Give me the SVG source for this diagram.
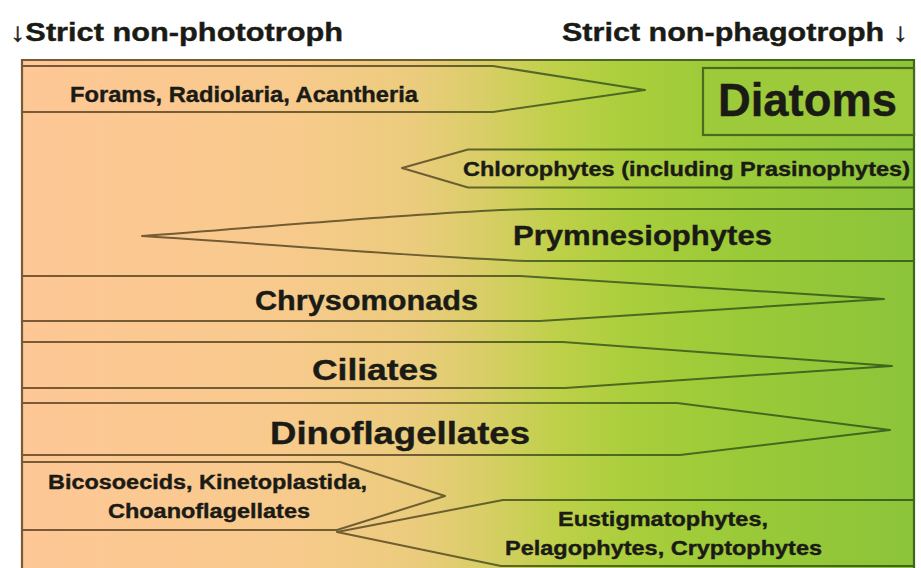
<svg xmlns="http://www.w3.org/2000/svg" width="921" height="568" viewBox="0 0 921 568">
<defs>
<linearGradient id="bg" gradientUnits="userSpaceOnUse" x1="22" y1="0" x2="914" y2="0">
<stop offset="0" stop-color="#FEC796"/>
<stop offset="0.3" stop-color="#F8CA8C"/>
<stop offset="0.44" stop-color="#EBCC7D"/>
<stop offset="0.52" stop-color="#D8CE66"/>
<stop offset="0.6" stop-color="#BFD049"/>
<stop offset="0.68" stop-color="#AACE3C"/>
<stop offset="0.8" stop-color="#9BCA38"/>
<stop offset="1" stop-color="#8CC43A"/>
</linearGradient>
<linearGradient id="ln" gradientUnits="userSpaceOnUse" x1="22" y1="0" x2="914" y2="0">
<stop offset="0" stop-color="#7A5A36"/>
<stop offset="0.45" stop-color="#6E5E30"/>
<stop offset="0.6" stop-color="#4F6A22"/>
<stop offset="1" stop-color="#3E671C"/>
</linearGradient>
</defs>
<style>
.sh{fill:none;stroke:url(#ln);stroke-width:2;stroke-linejoin:round}
.t{font-family:"Liberation Sans",Arial,sans-serif;font-weight:bold;fill:#1B1B16;stroke:#1B1B16;stroke-width:0.4}
</style>
<rect x="0" y="0" width="921" height="568" fill="#FFFFFF"/>
<g id="frame">
<rect x="22" y="60" width="892" height="512" fill="url(#bg)"/>
<path d="M22,572 V60 H914 V572" fill="none" stroke="url(#ln)" stroke-width="2.2"/>
</g>
<g id="header-left"><text class="t" x="10" y="41" font-size="26" textLength="333" lengthAdjust="spacingAndGlyphs">↓Strict non-phototroph</text></g>
<g id="header-right"><text class="t" x="562" y="41" font-size="26" textLength="346" lengthAdjust="spacingAndGlyphs">Strict non-phagotroph ↓</text></g>
<g id="forams">
<polyline class="sh" points="22,66 493,66 645,90 493,112 22,112"/>
<text class="t" x="70" y="102" font-size="22" textLength="348" lengthAdjust="spacingAndGlyphs">Forams, Radiolaria, Acantheria</text>
</g>
<g id="diatoms">
<rect x="703" y="68" width="211" height="67" fill="#9CCA3A" stroke="#4A6A20" stroke-width="2.2"/>
<text class="t" x="718" y="116" font-size="46" textLength="179" lengthAdjust="spacingAndGlyphs">Diatoms</text>
</g>
<g id="chlorophytes">
<polyline class="sh" points="914,149.5 468,149.5 402,168 468,187.5 914,187.5"/>
<text class="t" x="463" y="176" font-size="21" textLength="447" lengthAdjust="spacingAndGlyphs">Chlorophytes (including Prasinophytes)</text>
</g>
<g id="prymnesiophytes">
<path class="sh" d="M914,209 H540 C470,209 300,224 142,236 C300,246 470,261 540,261 H914"/>
<text class="t" x="513" y="245" font-size="28" textLength="259" lengthAdjust="spacingAndGlyphs">Prymnesiophytes</text>
</g>
<g id="chrysomonads">
<polyline class="sh" points="22,276 520,276 884,299 540,321 22,321"/>
<text class="t" x="255" y="310" font-size="27" textLength="223" lengthAdjust="spacingAndGlyphs">Chrysomonads</text>
</g>
<g id="ciliates">
<polyline class="sh" points="22,342 563,342 892,366 565,388 22,388"/>
<text class="t" x="312" y="380" font-size="30" textLength="126" lengthAdjust="spacingAndGlyphs">Ciliates</text>
</g>
<g id="dinoflagellates">
<polyline class="sh" points="22,403 677,403 890,430 680,455 22,455"/>
<text class="t" x="270" y="444" font-size="31" textLength="260" lengthAdjust="spacingAndGlyphs">Dinoflagellates</text>
</g>
<g id="bicosoecids">
<polyline class="sh" points="22,462 340,462 445,496 337,530 22,530"/>
<text class="t" x="48" y="489" font-size="20" textLength="319" lengthAdjust="spacingAndGlyphs">Bicosoecids, Kinetoplastida,</text>
<text class="t" x="108" y="518" font-size="20" textLength="202" lengthAdjust="spacingAndGlyphs">Choanoflagellates</text>
</g>
<g id="eustigmatophytes">
<polyline class="sh" points="914,500 503,500 337,532 501,566 914,566"/>
<text class="t" x="558" y="526" font-size="20.5" textLength="210" lengthAdjust="spacingAndGlyphs">Eustigmatophytes,</text>
<text class="t" x="505" y="555" font-size="20.5" textLength="317" lengthAdjust="spacingAndGlyphs">Pelagophytes, Cryptophytes</text>
</g>
<g id="connectors"></g>
</svg>
